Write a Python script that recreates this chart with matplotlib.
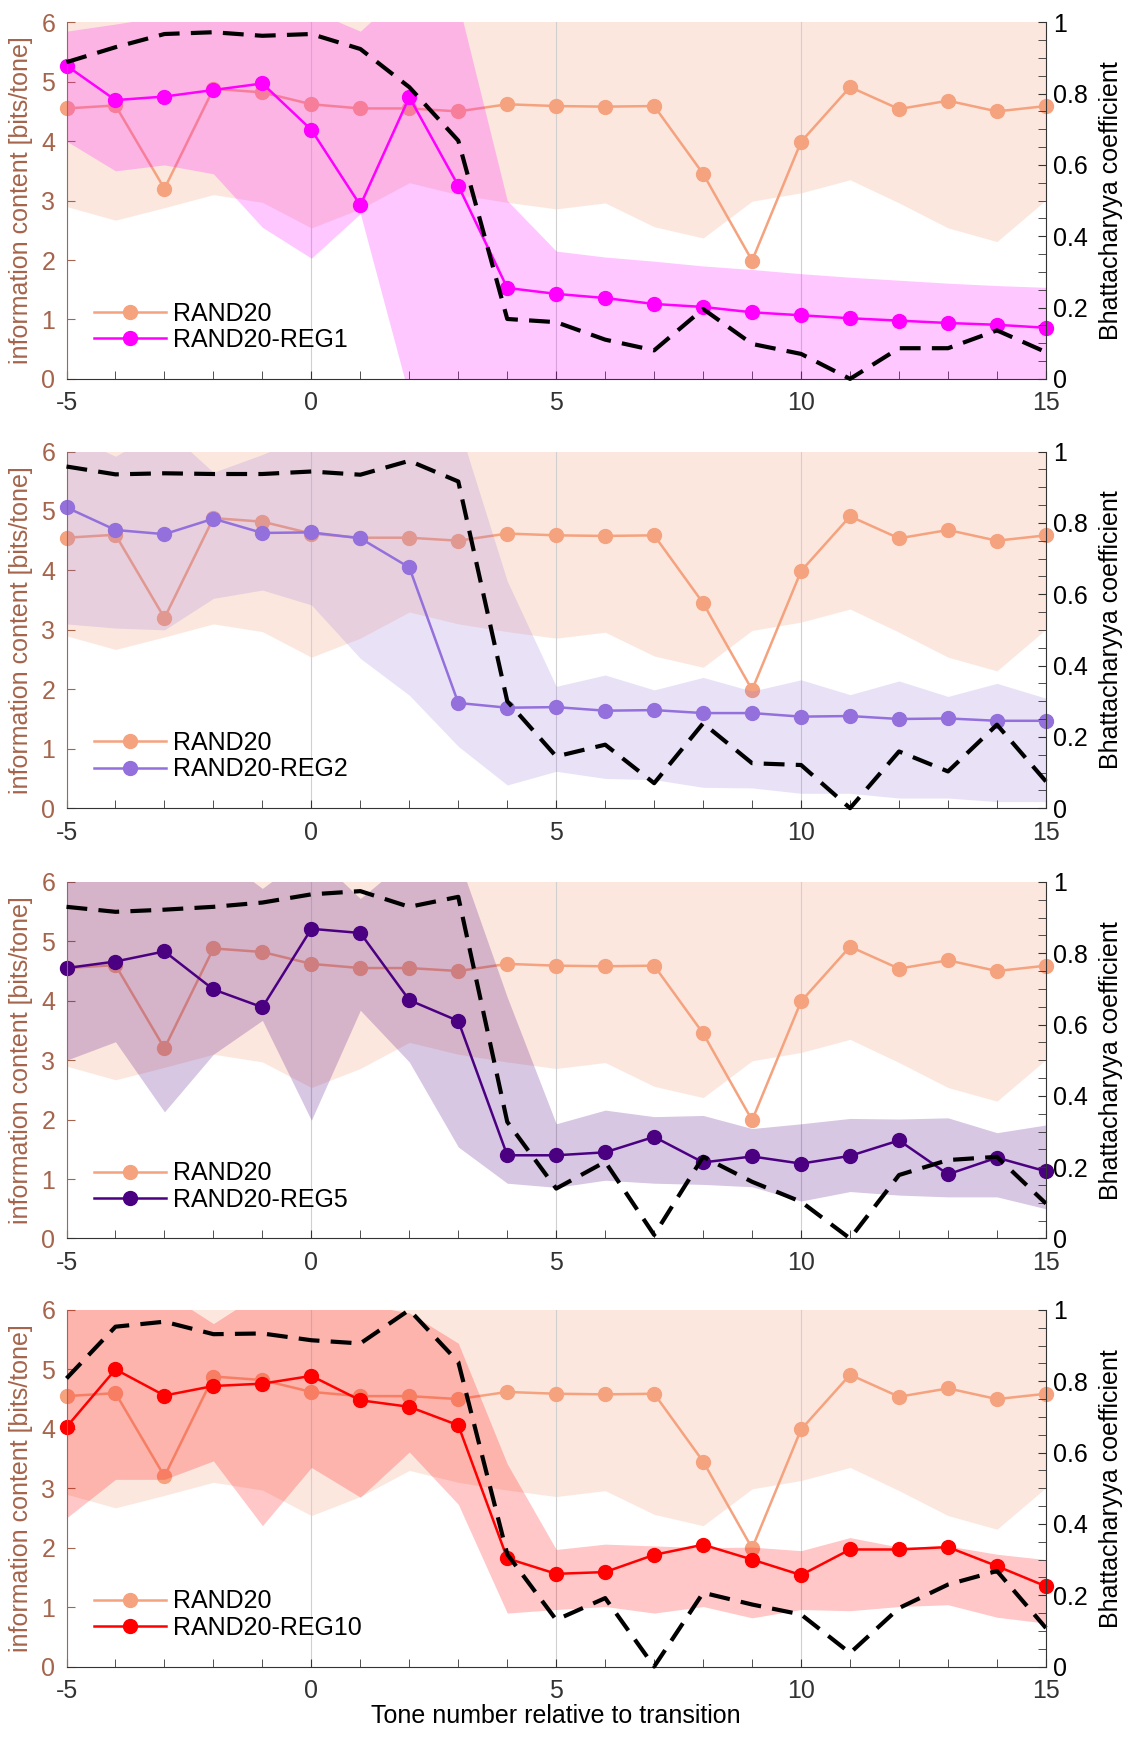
import numpy as np
import matplotlib.pyplot as plt
from matplotlib.ticker import MultipleLocator, FuncFormatter

plt.rcParams["font.family"] = ["Liberation Sans", "DejaVu Sans"]
plt.rcParams["font.size"] = 18
plt.rcParams["axes.unicode_minus"] = False

tones = np.arange(-5, 16)

# RAND20 reference condition (same in every panel)
rand20 = [4.55, 4.60, 3.20, 4.88, 4.82, 4.62, 4.55, 4.55, 4.50, 4.62, 4.59,
          4.58, 4.59, 3.45, 1.99, 3.99, 4.91, 4.54, 4.68, 4.50, 4.59]
rand20_hi = [6.2, 6.3, 6.4, 6.5, 6.4, 6.3, 6.1, 6.4, 6.5, 6.4, 6.3,
             6.4, 6.5, 6.6, 6.4, 6.3, 6.5, 6.4, 6.3, 6.4, 6.3]
rand20_lo = [2.90, 2.67, 2.88, 3.10, 2.97, 2.54, 2.86, 3.30, 3.10, 2.97, 2.86,
             2.96, 2.56, 2.37, 2.99, 3.13, 3.35, 2.96, 2.54, 2.31, 3.01]

# RAND20-REG1
reg1 = [5.27, 4.69, 4.75, 4.86, 4.97, 4.19, 2.92, 4.74, 3.25, 1.53, 1.43,
        1.36, 1.26, 1.21, 1.12, 1.07, 1.02, 0.98, 0.94, 0.91, 0.86]
reg1_hi = [5.85, 5.97, 6.1, 6.2, 6.3, 6.2, 5.85, 6.6, 6.33, 3.0, 2.15,
           2.05, 1.98, 1.90, 1.84, 1.77, 1.71, 1.66, 1.61, 1.57, 1.54]
reg1_lo = [4.0, 3.5, 3.6, 3.45, 2.55, 2.03, 2.78, -0.3, -0.5, -0.5, -0.5,
           -0.5, -0.5, -0.5, -0.5, -0.5, -0.5, -0.5, -0.5, -0.5, -0.5]
bc_reg1 = [0.888, 0.93, 0.967, 0.972, 0.962, 0.967, 0.925, 0.818, 0.668, 0.168, 0.159,
           0.11, 0.08, 0.196, 0.098, 0.07, 0.0, 0.086, 0.086, 0.136, 0.075]

# RAND20-REG2
reg2 = [5.06, 4.68, 4.61, 4.87, 4.63, 4.64, 4.54, 4.05, 1.77, 1.69, 1.70,
        1.64, 1.65, 1.60, 1.60, 1.54, 1.55, 1.50, 1.51, 1.47, 1.47]
reg2_hi = [6.3, 5.92, 6.4, 5.65, 5.95, 6.3, 6.5, 6.5, 6.45, 3.82, 2.05,
           2.24, 1.99, 2.20, 1.97, 2.16, 1.91, 2.14, 1.88, 2.10, 1.85]
reg2_lo = [3.1, 3.03, 3.0, 3.53, 3.67, 3.42, 2.52, 1.9, 1.04, 0.39, 0.62,
           0.50, 0.48, 0.35, 0.34, 0.25, 0.25, 0.17, 0.17, 0.11, 0.11]
bc_reg2 = [0.958, 0.936, 0.939, 0.937, 0.937, 0.944, 0.935, 0.974, 0.916, 0.30, 0.145,
           0.178, 0.07, 0.238, 0.126, 0.121, 0.0, 0.159, 0.103, 0.234, 0.075]

# RAND20-REG5
reg5 = [4.55, 4.66, 4.83, 4.19, 3.89, 5.21, 5.14, 4.01, 3.66, 1.40, 1.40,
        1.45, 1.71, 1.28, 1.38, 1.26, 1.39, 1.65, 1.08, 1.36, 1.13]
reg5_hi = [6.3, 6.4, 6.3, 6.5, 5.89, 6.5, 5.72, 6.4, 6.4, 4.06, 1.93,
           2.16, 2.05, 2.07, 1.85, 1.93, 2.02, 2.01, 2.03, 1.78, 1.91]
reg5_lo = [3.0, 3.31, 2.13, 3.1, 3.67, 1.99, 3.84, 2.97, 1.54, 0.93, 0.86,
           0.98, 0.93, 0.91, 0.87, 0.63, 0.79, 0.73, 0.70, 0.70, 0.50]
bc_reg5 = [0.93, 0.916, 0.922, 0.93, 0.942, 0.965, 0.974, 0.93, 0.958, 0.327, 0.14,
           0.215, 0.01, 0.229, 0.159, 0.103, 0.0, 0.178, 0.22, 0.229, 0.098]

# RAND20-REG10
reg10 = [4.03, 5.0, 4.56, 4.72, 4.76, 4.89, 4.48, 4.37, 4.06, 1.82, 1.56,
         1.59, 1.88, 2.05, 1.80, 1.54, 1.97, 1.97, 2.01, 1.69, 1.35]
reg10_hi = [6.3, 6.4, 6.3, 5.77, 6.3, 6.4, 6.1, 5.95, 5.44, 3.41, 1.97,
            2.06, 2.03, 2.00, 2.01, 1.95, 2.17, 2.01, 2.03, 1.89, 1.80]
reg10_lo = [2.5, 3.15, 3.15, 3.46, 2.37, 3.35, 2.85, 3.61, 2.73, 0.90, 0.96,
            1.01, 0.90, 1.01, 0.82, 0.96, 0.94, 1.01, 1.04, 0.83, 0.73]
bc_reg10 = [0.808, 0.953, 0.967, 0.932, 0.934, 0.915, 0.906, 1.0, 0.854, 0.315, 0.131,
            0.192, 0.0, 0.207, 0.174, 0.146, 0.038, 0.164, 0.23, 0.268, 0.108]

panels = [
    ("RAND20-REG1", "#FF00FF", 0.22, reg1, reg1_lo, reg1_hi, bc_reg1),
    ("RAND20-REG2", "#9370DB", 0.20, reg2, reg2_lo, reg2_hi, bc_reg2),
    ("RAND20-REG5", "#4B0082", 0.22, reg5, reg5_lo, reg5_hi, bc_reg5),
    ("RAND20-REG10", "#FF0000", 0.22, reg10, reg10_lo, reg10_hi, bc_reg10),
]

rand_color = "#F5A27F"
brown = "#A5644B"
dark = "#333333"

fig = plt.figure(figsize=(11.31, 17.38), dpi=100)
bottoms = [0.782, 0.535, 0.2874, 0.0411]

for (name, color, alpha, mean, lo, hi, bc), b in zip(panels, bottoms):
    ax = fig.add_axes([0.0588, b, 0.866, 0.2052])
    ax.fill_between(tones, rand20_lo, rand20_hi, color=rand_color, alpha=0.25, lw=0)
    l1, = ax.plot(tones, rand20, "-o", color=rand_color, lw=1.8, ms=10,
                  label="RAND20", clip_on=False, zorder=2)
    ax.fill_between(tones, lo, hi, color=color, alpha=alpha, lw=0, zorder=2.2)
    l2, = ax.plot(tones, mean, "-o", color=color, lw=1.8, ms=10,
                  label=name, clip_on=False, zorder=2.5)

    ax.set_xlim(-5, 15)
    ax.set_ylim(0, 6)
    ax.set_xticks([-5, 0, 5, 10, 15])
    ax.xaxis.set_minor_locator(MultipleLocator(1))
    ax.set_yticks(range(0, 7))
    ax.tick_params(axis="x", which="both", direction="in", length=6,
                   color=dark, labelcolor=dark, pad=9)
    ax.tick_params(axis="y", direction="in", length=6, color=brown,
                   labelcolor=brown, pad=8)
    ax.xaxis.grid(True, which="major", color="#d0d0d0", lw=0.8)
    ax.set_axisbelow("line")
    ax.spines["top"].set_visible(False)
    ax.spines["right"].set_visible(False)
    ax.spines["left"].set_color(brown)
    ax.spines["bottom"].set_color(dark)
    ax.set_ylabel("information content [bits/tone]", color=brown, labelpad=6)

    ax2 = ax.twinx()
    ax2.plot(tones, bc, color="black", lw=3, dashes=(5, 2.7), clip_on=False)
    ax2.set_ylim(0, 1)
    ax2.yaxis.set_major_locator(MultipleLocator(0.2))
    ax2.yaxis.set_minor_locator(MultipleLocator(0.05))
    ax2.yaxis.set_major_formatter(FuncFormatter(lambda v, p: "%g" % round(v, 2)))
    ax2.tick_params(axis="y", which="both", direction="in", length=6,
                    color=dark, labelcolor="black", pad=5)
    for s in ["top", "left", "bottom"]:
        ax2.spines[s].set_visible(False)
    ax2.spines["right"].set_color(dark)
    ax2.set_ylabel("Bhattacharyya coefficient", labelpad=8)

    ax.legend(handles=[l1, l2], loc="lower left", bbox_to_anchor=(0.028, 0.075),
              frameon=False, handlelength=2.9, handletextpad=0.25,
              labelspacing=0.1, borderaxespad=0, borderpad=0)

ax.set_xlabel("Tone number relative to transition", labelpad=1)

fig.savefig("out.png", dpi=100)
